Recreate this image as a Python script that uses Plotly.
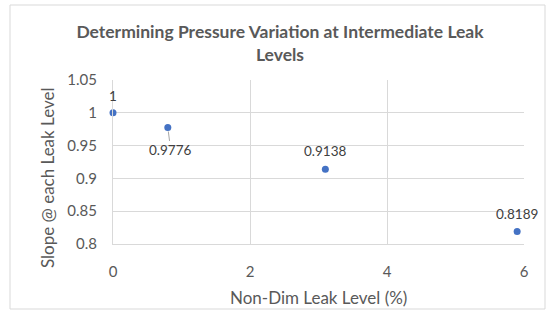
import plotly.graph_objects as go

x_vals = [0, 0.8, 3.1, 5.9]
y_vals = [1.0, 0.9776, 0.9138, 0.8189]
labels = ["1", "0.9776", "0.9138", "0.8189"]
label_offsets = [(0, -17), (3, 23), (0, -18), (0, -18)]
x_ticks = [0, 2, 4, 6]
y_ticks = [0.8, 0.85, 0.9, 0.95, 1.0, 1.05]
y_tick_text = ["0.8", "0.85", "0.9", "0.95", "1", "1.05"]

W, H = 554, 321
L, R, T, B = 113, 30, 80, 77
pw, ph = W - L - R, H - T - B

def px_x(p):
    return (p - L) / pw

def px_y(p):
    return 1 - (p - T) / ph

FONT = "Lato"
GRAY = "#595959"
fig = go.Figure()
fig.add_trace(go.Scatter(
    x=x_vals, y=y_vals, mode="markers",
    marker=dict(color="#4472C4", size=7),
    hoverinfo="skip", showlegend=False, cliponaxis=False,
))

for xv, yv, lab, (dx, dy) in zip(x_vals, y_vals, labels, label_offsets):
    if dy > 0:
        fig.add_annotation(x=xv, y=yv, text=lab, showarrow=True, arrowhead=0,
                           arrowwidth=1, arrowcolor="#A6A6A6", ax=dx, ay=dy,
                           standoff=4, font=dict(family=FONT, size=13.5, color="#404040"))
    else:
        fig.add_annotation(x=xv, y=yv, text=lab, showarrow=False,
                           yshift=-dy, xshift=dx,
                           font=dict(family=FONT, size=13.5, color="#404040"))

# axis titles
fig.add_annotation(xref="paper", yref="paper", x=px_x(318), y=px_y(297),
                   text="Non-Dim Leak Level (%)", showarrow=False,
                   xanchor="center", yanchor="middle",
                   font=dict(family=FONT, size=17, color=GRAY))
fig.add_annotation(xref="paper", yref="paper", x=px_x(47), y=px_y(178),
                   text="Slope @ each Leak Level", showarrow=False, textangle=-90,
                   xanchor="center", yanchor="middle",
                   font=dict(family=FONT, size=17, color=GRAY))

fig.add_shape(type="rect", xref="paper", yref="paper",
              x0=px_x(10), x1=px_x(545), y0=px_y(309), y1=px_y(5),
              line=dict(color="#D9D9D9", width=1), fillcolor="rgba(0,0,0,0)",
              layer="below")

fig.update_layout(
    width=W, height=H,
    margin=dict(l=L, r=R, t=T, b=B),
    paper_bgcolor="white", plot_bgcolor="white",
    font=dict(family=FONT, color=GRAY),
    title=dict(text="<b>Determining Pressure Variation at Intermediate Leak<br>Levels</b>",
               xref="container", x=280 / W, xanchor="center",
               yref="container", y=1 - 38 / H, yanchor="middle",
               font=dict(family=FONT, size=17.5, color=GRAY)),
    xaxis=dict(range=[0, 6], tickvals=x_ticks, showgrid=True, gridcolor="#D9D9D9",
               zeroline=False, showline=True, linecolor="#D9D9D9", mirror=False,
               ticks="", ticklabelstandoff=14,
               tickfont=dict(family=FONT, size=15, color=GRAY)),
    yaxis=dict(range=[0.8, 1.05], tickvals=y_ticks, ticktext=y_tick_text,
               showgrid=True, gridcolor="#D9D9D9",
               zeroline=False, showline=True, linecolor="#D9D9D9",
               ticks="", ticklabelstandoff=12,
               tickfont=dict(family=FONT, size=15, color=GRAY)),
)

fig.write_html("out.html")
